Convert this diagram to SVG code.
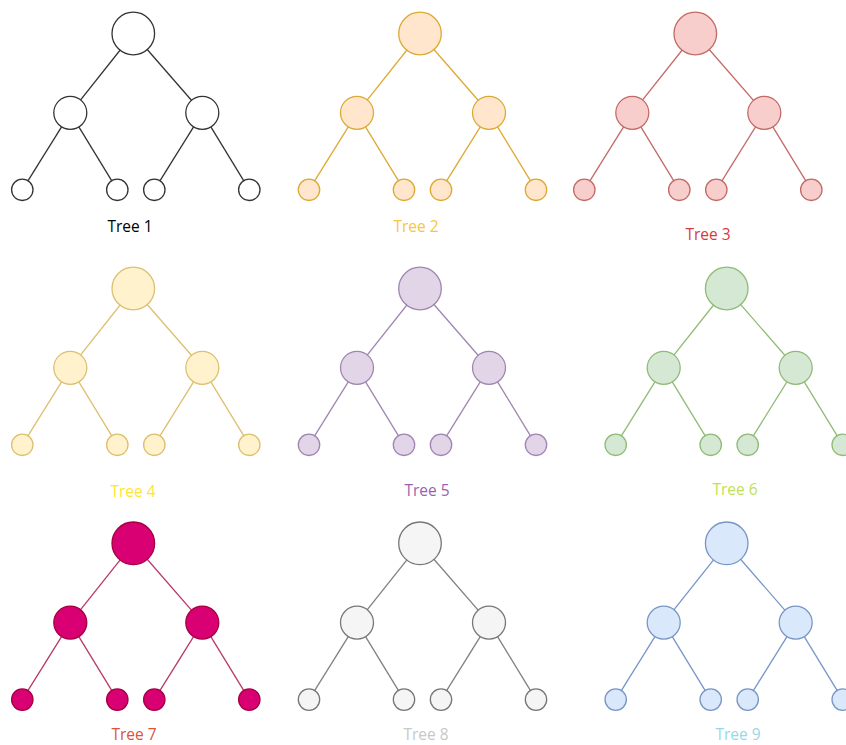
<svg xmlns="http://www.w3.org/2000/svg" width="846" height="745" viewBox="0 0 846 745">
<style>
  circle { stroke-width: 1.3; }
  line { stroke-width: 1.3; fill: none; }
  text { font-family: "Open Sans", "Liberation Sans", sans-serif; font-size: 15.5px; text-anchor: middle; }
  .t1 circle { fill: #ffffff; stroke: #333333; } .e1 { stroke: #333333; }
  .t2 circle { fill: #ffe6cc; stroke: #dcaa33; } .e2 { stroke: #dcaa33; }
  .t3 circle { fill: #f8cecc; stroke: #c26a66; } .e3 { stroke: #c26a66; }
  .t4 circle { fill: #fff2cc; stroke: #dcc070; } .e4 { stroke: #dcc070; }
  .t5 circle { fill: #e1d5e7; stroke: #a085b2; } .e5 { stroke: #a085b2; }
  .t6 circle { fill: #d5e8d4; stroke: #8fbb76; } .e6 { stroke: #8fbb76; }
  .t7 circle { fill: #d80073; stroke: #a50040; } .e7 { stroke: #b8386a; }
  .t8 circle { fill: #f5f5f5; stroke: #777777; } .e8 { stroke: #808080; }
  .t9 circle { fill: #dae8fc; stroke: #7896c4; } .e9 { stroke: #7896c4; }
</style>
<g id="connectors">
  <g class="e1" transform="translate(133.3,33.5)">
    <line x1="0" y1="0" x2="-63" y2="79.3"/><line x1="0" y1="0" x2="69" y2="79.3"/>
    <line x1="-63" y1="79.3" x2="-111" y2="156.3"/><line x1="-63" y1="79.3" x2="-16" y2="156.3"/>
    <line x1="69" y1="79.3" x2="21" y2="156.3"/><line x1="69" y1="79.3" x2="116" y2="156.3"/>
  </g>
  <g class="e2" transform="translate(420,33.5)">
    <line x1="0" y1="0" x2="-63" y2="79.3"/><line x1="0" y1="0" x2="69" y2="79.3"/>
    <line x1="-63" y1="79.3" x2="-111" y2="156.3"/><line x1="-63" y1="79.3" x2="-16" y2="156.3"/>
    <line x1="69" y1="79.3" x2="21" y2="156.3"/><line x1="69" y1="79.3" x2="116" y2="156.3"/>
  </g>
  <g class="e3" transform="translate(695.3,33.5)">
    <line x1="0" y1="0" x2="-63" y2="79.3"/><line x1="0" y1="0" x2="69" y2="79.3"/>
    <line x1="-63" y1="79.3" x2="-111" y2="156.3"/><line x1="-63" y1="79.3" x2="-16" y2="156.3"/>
    <line x1="69" y1="79.3" x2="21" y2="156.3"/><line x1="69" y1="79.3" x2="116" y2="156.3"/>
  </g>
  <g class="e4" transform="translate(133.3,288.5)">
    <line x1="0" y1="0" x2="-63" y2="79.3"/><line x1="0" y1="0" x2="69" y2="79.3"/>
    <line x1="-63" y1="79.3" x2="-111" y2="156.3"/><line x1="-63" y1="79.3" x2="-16" y2="156.3"/>
    <line x1="69" y1="79.3" x2="21" y2="156.3"/><line x1="69" y1="79.3" x2="116" y2="156.3"/>
  </g>
  <g class="e5" transform="translate(420,288.5)">
    <line x1="0" y1="0" x2="-63" y2="79.3"/><line x1="0" y1="0" x2="69" y2="79.3"/>
    <line x1="-63" y1="79.3" x2="-111" y2="156.3"/><line x1="-63" y1="79.3" x2="-16" y2="156.3"/>
    <line x1="69" y1="79.3" x2="21" y2="156.3"/><line x1="69" y1="79.3" x2="116" y2="156.3"/>
  </g>
  <g class="e6" transform="translate(726.7,288.5)">
    <line x1="0" y1="0" x2="-63" y2="79.3"/><line x1="0" y1="0" x2="69" y2="79.3"/>
    <line x1="-63" y1="79.3" x2="-111" y2="156.3"/><line x1="-63" y1="79.3" x2="-16" y2="156.3"/>
    <line x1="69" y1="79.3" x2="21" y2="156.3"/><line x1="69" y1="79.3" x2="116" y2="156.3"/>
  </g>
  <g class="e7" transform="translate(133.3,543.3)">
    <line x1="0" y1="0" x2="-63" y2="79.3"/><line x1="0" y1="0" x2="69" y2="79.3"/>
    <line x1="-63" y1="79.3" x2="-111" y2="156.3"/><line x1="-63" y1="79.3" x2="-16" y2="156.3"/>
    <line x1="69" y1="79.3" x2="21" y2="156.3"/><line x1="69" y1="79.3" x2="116" y2="156.3"/>
  </g>
  <g class="e8" transform="translate(420,543.3)">
    <line x1="0" y1="0" x2="-63" y2="79.3"/><line x1="0" y1="0" x2="69" y2="79.3"/>
    <line x1="-63" y1="79.3" x2="-111" y2="156.3"/><line x1="-63" y1="79.3" x2="-16" y2="156.3"/>
    <line x1="69" y1="79.3" x2="21" y2="156.3"/><line x1="69" y1="79.3" x2="116" y2="156.3"/>
  </g>
  <g class="e9" transform="translate(726.7,543.3)">
    <line x1="0" y1="0" x2="-63" y2="79.3"/><line x1="0" y1="0" x2="69" y2="79.3"/>
    <line x1="-63" y1="79.3" x2="-111" y2="156.3"/><line x1="-63" y1="79.3" x2="-16" y2="156.3"/>
    <line x1="69" y1="79.3" x2="21" y2="156.3"/><line x1="69" y1="79.3" x2="116" y2="156.3"/>
  </g>
</g>
<g id="tree1" class="t1" transform="translate(133.3,33.5)">
  <g id="t1-root"><circle cx="0" cy="0" r="21.3"/></g>
  <g id="t1-l"><circle cx="-63" cy="79.3" r="16.5"/></g>
  <g id="t1-r"><circle cx="69" cy="79.3" r="16.5"/></g>
  <g id="t1-ll"><circle cx="-111" cy="156.3" r="10.7"/></g>
  <g id="t1-lr"><circle cx="-16" cy="156.3" r="10.7"/></g>
  <g id="t1-rl"><circle cx="21" cy="156.3" r="10.7"/></g>
  <g id="t1-rr"><circle cx="116" cy="156.3" r="10.7"/></g>
</g>
<g id="tree2" class="t2" transform="translate(420,33.5)">
  <g id="t2-root"><circle cx="0" cy="0" r="21.3"/></g>
  <g id="t2-l"><circle cx="-63" cy="79.3" r="16.5"/></g>
  <g id="t2-r"><circle cx="69" cy="79.3" r="16.5"/></g>
  <g id="t2-ll"><circle cx="-111" cy="156.3" r="10.7"/></g>
  <g id="t2-lr"><circle cx="-16" cy="156.3" r="10.7"/></g>
  <g id="t2-rl"><circle cx="21" cy="156.3" r="10.7"/></g>
  <g id="t2-rr"><circle cx="116" cy="156.3" r="10.7"/></g>
</g>
<g id="tree3" class="t3" transform="translate(695.3,33.5)">
  <g id="t3-root"><circle cx="0" cy="0" r="21.3"/></g>
  <g id="t3-l"><circle cx="-63" cy="79.3" r="16.5"/></g>
  <g id="t3-r"><circle cx="69" cy="79.3" r="16.5"/></g>
  <g id="t3-ll"><circle cx="-111" cy="156.3" r="10.7"/></g>
  <g id="t3-lr"><circle cx="-16" cy="156.3" r="10.7"/></g>
  <g id="t3-rl"><circle cx="21" cy="156.3" r="10.7"/></g>
  <g id="t3-rr"><circle cx="116" cy="156.3" r="10.7"/></g>
</g>
<g id="tree4" class="t4" transform="translate(133.3,288.5)">
  <g id="t4-root"><circle cx="0" cy="0" r="21.3"/></g>
  <g id="t4-l"><circle cx="-63" cy="79.3" r="16.5"/></g>
  <g id="t4-r"><circle cx="69" cy="79.3" r="16.5"/></g>
  <g id="t4-ll"><circle cx="-111" cy="156.3" r="10.7"/></g>
  <g id="t4-lr"><circle cx="-16" cy="156.3" r="10.7"/></g>
  <g id="t4-rl"><circle cx="21" cy="156.3" r="10.7"/></g>
  <g id="t4-rr"><circle cx="116" cy="156.3" r="10.7"/></g>
</g>
<g id="tree5" class="t5" transform="translate(420,288.5)">
  <g id="t5-root"><circle cx="0" cy="0" r="21.3"/></g>
  <g id="t5-l"><circle cx="-63" cy="79.3" r="16.5"/></g>
  <g id="t5-r"><circle cx="69" cy="79.3" r="16.5"/></g>
  <g id="t5-ll"><circle cx="-111" cy="156.3" r="10.7"/></g>
  <g id="t5-lr"><circle cx="-16" cy="156.3" r="10.7"/></g>
  <g id="t5-rl"><circle cx="21" cy="156.3" r="10.7"/></g>
  <g id="t5-rr"><circle cx="116" cy="156.3" r="10.7"/></g>
</g>
<g id="tree6" class="t6" transform="translate(726.7,288.5)">
  <g id="t6-root"><circle cx="0" cy="0" r="21.3"/></g>
  <g id="t6-l"><circle cx="-63" cy="79.3" r="16.5"/></g>
  <g id="t6-r"><circle cx="69" cy="79.3" r="16.5"/></g>
  <g id="t6-ll"><circle cx="-111" cy="156.3" r="10.7"/></g>
  <g id="t6-lr"><circle cx="-16" cy="156.3" r="10.7"/></g>
  <g id="t6-rl"><circle cx="21" cy="156.3" r="10.7"/></g>
  <g id="t6-rr"><circle cx="116" cy="156.3" r="10.7"/></g>
</g>
<g id="tree7" class="t7" transform="translate(133.3,543.3)">
  <g id="t7-root"><circle cx="0" cy="0" r="21.3"/></g>
  <g id="t7-l"><circle cx="-63" cy="79.3" r="16.5"/></g>
  <g id="t7-r"><circle cx="69" cy="79.3" r="16.5"/></g>
  <g id="t7-ll"><circle cx="-111" cy="156.3" r="10.7"/></g>
  <g id="t7-lr"><circle cx="-16" cy="156.3" r="10.7"/></g>
  <g id="t7-rl"><circle cx="21" cy="156.3" r="10.7"/></g>
  <g id="t7-rr"><circle cx="116" cy="156.3" r="10.7"/></g>
</g>
<g id="tree8" class="t8" transform="translate(420,543.3)">
  <g id="t8-root"><circle cx="0" cy="0" r="21.3"/></g>
  <g id="t8-l"><circle cx="-63" cy="79.3" r="16.5"/></g>
  <g id="t8-r"><circle cx="69" cy="79.3" r="16.5"/></g>
  <g id="t8-ll"><circle cx="-111" cy="156.3" r="10.7"/></g>
  <g id="t8-lr"><circle cx="-16" cy="156.3" r="10.7"/></g>
  <g id="t8-rl"><circle cx="21" cy="156.3" r="10.7"/></g>
  <g id="t8-rr"><circle cx="116" cy="156.3" r="10.7"/></g>
</g>
<g id="tree9" class="t9" transform="translate(726.7,543.3)">
  <g id="t9-root"><circle cx="0" cy="0" r="21.3"/></g>
  <g id="t9-l"><circle cx="-63" cy="79.3" r="16.5"/></g>
  <g id="t9-r"><circle cx="69" cy="79.3" r="16.5"/></g>
  <g id="t9-ll"><circle cx="-111" cy="156.3" r="10.7"/></g>
  <g id="t9-lr"><circle cx="-16" cy="156.3" r="10.7"/></g>
  <g id="t9-rl"><circle cx="21" cy="156.3" r="10.7"/></g>
  <g id="t9-rr"><circle cx="116" cy="156.3" r="10.7"/></g>
</g>
<g id="labels">
  <text x="130" y="232" fill="#000000">Tree 1</text>
  <text x="416" y="232" fill="#f7c63a">Tree 2</text>
  <text x="708" y="240" fill="#d9393c">Tree 3</text>
  <text x="133" y="497" fill="#ffe433">Tree 4</text>
  <text x="427" y="496" fill="#9c5fb5">Tree 5</text>
  <text x="735" y="495" fill="#bfe05a">Tree 6</text>
  <text x="134" y="740" fill="#e0503a">Tree 7</text>
  <text x="426" y="740" fill="#c8c8c8">Tree 8</text>
  <text x="738" y="740" fill="#99d6ea">Tree 9</text>
</g>
</svg>
